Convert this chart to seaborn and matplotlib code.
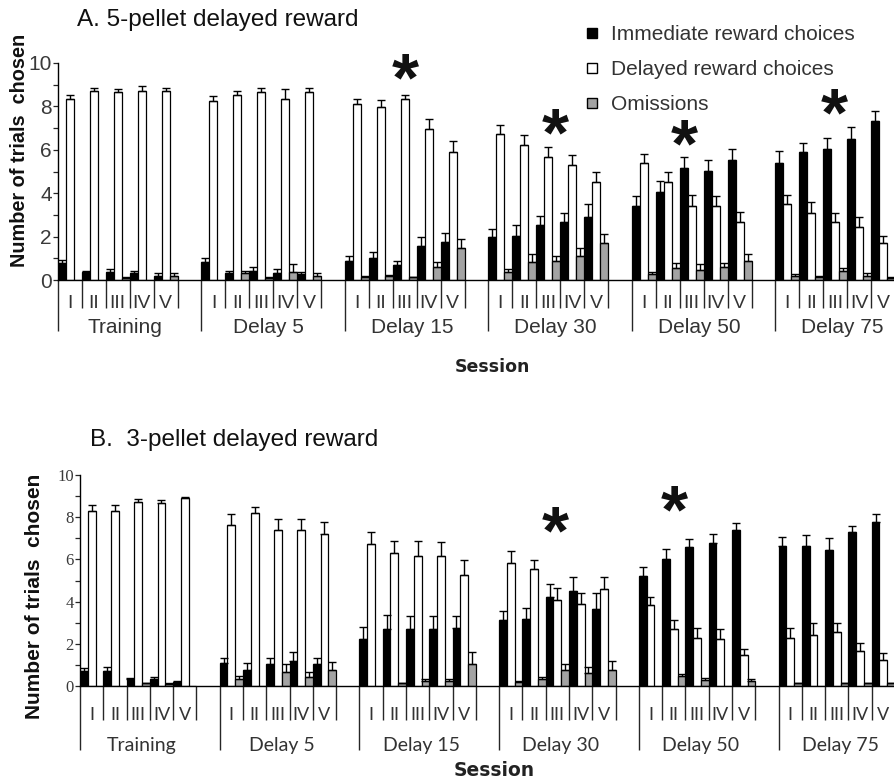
import numpy as np
import pandas as pd
import matplotlib
matplotlib.use("Agg")
import matplotlib.pyplot as plt
import seaborn as sns
from matplotlib.lines import Line2D

# ---------------- data ----------------
groups = ["Training", "Delay 5", "Delay 15", "Delay 30", "Delay 50", "Delay 75"]
sessions = ["I", "II", "III", "IV", "V"]
kinds = ["Immediate reward choices", "Delayed reward choices", "Omissions"]

# Panel A: 5-pellet delayed reward (rows = groups, cols = sessions I..V)
a_imm = [[0.78, 0.35, 0.38, 0.32, 0.20],
         [0.82, 0.34, 0.40, 0.32, 0.29],
         [0.89, 1.00, 0.71, 1.55, 1.74],
         [2.00, 2.05, 2.55, 2.66, 2.92],
         [3.43, 4.05, 5.15, 5.02, 5.54],
         [5.38, 5.89, 6.02, 6.51, 7.31]]
a_imm_err = [[0.16, 0.05, 0.12, 0.11, 0.10],
             [0.18, 0.09, 0.18, 0.18, 0.06],
             [0.23, 0.28, 0.15, 0.42, 0.41],
             [0.35, 0.49, 0.42, 0.42, 0.58],
             [0.42, 0.50, 0.54, 0.53, 0.51],
             [0.56, 0.42, 0.53, 0.54, 0.47]]
a_del = [[8.35, 8.71, 8.66, 8.71, 8.71],
         [8.23, 8.54, 8.66, 8.35, 8.66],
         [8.12, 7.97, 8.35, 6.94, 5.89],
         [6.74, 6.20, 5.69, 5.32, 4.51],
         [5.38, 4.51, 3.43, 3.43, 2.66],
         [3.51, 3.08, 2.66, 2.43, 1.69]]
a_del_err = [[0.19, 0.15, 0.12, 0.21, 0.12],
             [0.26, 0.17, 0.19, 0.43, 0.19],
             [0.23, 0.31, 0.19, 0.49, 0.51],
             [0.38, 0.46, 0.43, 0.42, 0.49],
             [0.44, 0.49, 0.51, 0.46, 0.49],
             [0.43, 0.50, 0.43, 0.49, 0.36]]
a_om = [[0.00, 0.00, 0.10, 0.00, 0.17],
        [0.00, 0.32, 0.10, 0.38, 0.20],
        [0.12, 0.17, 0.12, 0.62, 1.48],
        [0.38, 0.82, 0.89, 1.12, 1.69],
        [0.28, 0.54, 0.48, 0.62, 0.89],
        [0.20, 0.15, 0.43, 0.20, 0.10]]
a_om_err = [[0.00, 0.00, 0.02, 0.00, 0.13],
            [0.00, 0.10, 0.03, 0.36, 0.10],
            [0.08, 0.05, 0.03, 0.23, 0.41],
            [0.12, 0.38, 0.23, 0.36, 0.43],
            [0.07, 0.24, 0.26, 0.16, 0.31],
            [0.08, 0.03, 0.12, 0.12, 0.05]]

# Panel B: 3-pellet delayed reward
b_imm = [[0.71, 0.71, 0.32, 0.33, 0.19],
         [1.07, 0.76, 1.03, 1.20, 1.03],
         [2.23, 2.69, 2.69, 2.69, 2.73],
         [3.13, 3.18, 4.20, 4.52, 3.63],
         [5.21, 6.00, 6.57, 6.76, 7.39],
         [6.64, 6.64, 6.45, 7.31, 7.76]]
b_imm_err = [[0.16, 0.21, 0.05, 0.11, 0.04],
             [0.27, 0.31, 0.28, 0.43, 0.28],
             [0.58, 0.67, 0.63, 0.63, 0.59],
             [0.44, 0.53, 0.63, 0.63, 0.76],
             [0.45, 0.49, 0.38, 0.43, 0.32],
             [0.44, 0.52, 0.55, 0.27, 0.39]]
b_del = [[8.31, 8.31, 8.70, 8.66, 8.90],
         [7.63, 8.21, 7.39, 7.39, 7.19],
         [6.73, 6.29, 6.16, 6.16, 5.26],
         [5.85, 5.53, 4.08, 3.87, 4.58],
         [3.84, 2.69, 2.29, 2.23, 1.47],
         [2.29, 2.42, 2.54, 1.66, 1.23]]
b_del_err = [[0.27, 0.27, 0.15, 0.16, 0.04],
             [0.52, 0.26, 0.51, 0.51, 0.57],
             [0.58, 0.58, 0.71, 0.65, 0.71],
             [0.56, 0.44, 0.55, 0.52, 0.57],
             [0.39, 0.44, 0.44, 0.46, 0.28],
             [0.44, 0.55, 0.43, 0.36, 0.32]]
b_om = [[0.00, 0.00, 0.13, 0.11, 0.00],
        [0.32, 0.00, 0.65, 0.44, 0.76],
        [0.00, 0.13, 0.25, 0.25, 1.03],
        [0.19, 0.32, 0.76, 0.63, 0.76],
        [0.00, 0.49, 0.28, 0.00, 0.25],
        [0.13, 0.00, 0.13, 0.13, 0.13]]
b_om_err = [[0.00, 0.00, 0.02, 0.02, 0.00],
            [0.17, 0.00, 0.38, 0.24, 0.39],
            [0.00, 0.02, 0.06, 0.06, 0.60],
            [0.03, 0.12, 0.27, 0.25, 0.42],
            [0.00, 0.08, 0.08, 0.00, 0.08],
            [0.00, 0.00, 0.00, 0.00, 0.00]]

# significance markers: (group index, session position within group, y level)
a_stars = [(2, 2.02, 9.86), (3, 2.3, 7.32), (4, 1.68, 6.82), (5, 1.95, 8.25)]
b_stars = [(3, 1.9, 7.9), (4, 1.0, 8.9)]

# ---------------- style ----------------
sns.set_style("ticks")
plt.rcParams["font.family"] = ["Liberation Sans", "DejaVu Sans"]
colors = ["#000000", "#ffffff", "#a3a3a3"]
SLOT = 6  # 5 sessions + 1 empty gap per group

W, H = 895, 783
fig = plt.figure(figsize=(W / 100, H / 100), dpi=100)


def long_df(imm, dly, om):
    rows = []
    for g in range(len(groups)):
        for s in range(len(sessions)):
            pos = g * SLOT + s
            for k, arr in enumerate((imm, dly, om)):
                rows.append(dict(pos=pos, value=arr[g][s], kind=kinds[k]))
    return pd.DataFrame(rows)


def panel(ax, imm, imm_e, dly, dly_e, om, om_e, xmax, tick_font, tick_size,
          lab_font, lab_size, num_y, grp_y, grp_off, minor_len, major_len, stars):
    df = long_df(imm, dly, om)
    sns.barplot(data=df, x="pos", y="value", hue="kind", hue_order=kinds,
                palette=colors, saturation=1, native_scale=True, width=1.0,
                gap=0, edgecolor="black", linewidth=0.9, errorbar=None,
                legend=False, ax=ax, zorder=2)
    # one-sided SEM error bars
    for k, (vals, errs) in enumerate(((imm, imm_e), (dly, dly_e), (om, om_e))):
        xs, ys, es = [], [], []
        for g in range(len(groups)):
            for s in range(len(sessions)):
                if vals[g][s] > 0:
                    xs.append(g * SLOT + s + (k - 1) / 3.0)
                    ys.append(vals[g][s])
                    es.append(errs[g][s])
        ax.errorbar(xs, ys, yerr=[np.zeros(len(es)), es], fmt="none",
                    ecolor="black", elinewidth=1.0, capsize=3, capthick=1.0,
                    zorder=3)
    ax.set_xlim(-0.5, xmax)
    ax.set_ylim(0, 10)
    ax.set_xlabel("")
    ax.set_ylabel("")
    for sp in ("top", "right"):
        ax.spines[sp].set_visible(False)
    for sp in ("left", "bottom"):
        ax.spines[sp].set_linewidth(1.0)
        ax.spines[sp].set_color("black")
    # y ticks
    ax.set_yticks([0, 2, 4, 6, 8, 10])
    ax.set_yticks([1, 3, 5, 7, 9], minor=True)
    ax.tick_params(axis="y", which="both", direction="out", length=3.5,
                   width=0.9, pad=1, labelsize=tick_size, labelcolor="#3a3a3a")
    for t in ax.get_yticklabels():
        t.set_fontfamily(tick_font)
    # x separators as ticks
    major = [g * SLOT - 0.5 for g in range(len(groups))]
    minor = [g * SLOT + s + 0.5 for g in range(len(groups)) for s in range(len(sessions))]
    ax.set_xticks(major)
    ax.set_xticks(minor, minor=True)
    ax.set_xticklabels([])
    ax.tick_params(axis="x", which="major", direction="out", length=major_len, width=1.0)
    ax.tick_params(axis="x", which="minor", direction="out", length=minor_len, width=1.0)
    trans = ax.get_xaxis_transform()
    for g, name in enumerate(groups):
        for s, rn in enumerate(sessions):
            ax.text(g * SLOT + s, num_y, rn, transform=trans, ha="center", va="center",
                    fontsize=lab_size - 1, family=lab_font, color="#333333", clip_on=False)
        ax.text(g * SLOT + grp_off, grp_y, name, transform=trans, ha="center", va="center",
                fontsize=lab_size, family=lab_font, color="#333333", clip_on=False)
    fs = 50
    for g, s, y in stars:
        ax.annotate("*", xy=(g * SLOT + s, y), xytext=(0, -0.49 * fs),
                    textcoords="offset points", ha="center", va="baseline",
                    fontsize=fs, fontweight="bold", family="Liberation Sans",
                    color="#111111", annotation_clip=False)


axA = fig.add_axes([58 / W, 1 - 280 / H, 1 - 58 / W, 217 / H])
panel(axA, a_imm, a_imm_err, a_del, a_del_err, a_om, a_om_err, 34.23,
      "Liberation Sans", 15, "Liberation Sans", 15, -0.106, -0.217, 2.3, 20, 37, a_stars)

axB = fig.add_axes([80 / W, 1 - 686 / H, 1 - 80 / W, 211 / H])
panel(axB, b_imm, b_imm_err, b_del, b_del_err, b_om, b_om_err, 34.48,
      "Liberation Serif", 12, "Lato", 14, -0.137, -0.28, 2.15, 24.5, 46, b_stars)

# titles and axis labels
fig.text(77 / W, 1 - 20 / H, "A. 5-pellet delayed reward", ha="left", va="center",
         fontsize=17.5, color="#111111")
fig.text(90 / W, 1 - 440 / H, "B.  3-pellet delayed reward", ha="left", va="center",
         fontsize=17.5, color="#111111")
fig.text(20 / W, 1 - 150 / H, "Number of trials  chosen", rotation=90, ha="center",
         va="center", fontsize=14.3, fontweight="bold", color="#111111")
fig.text(35 / W, 1 - 596 / H, "Number of trials  chosen", rotation=90, ha="center",
         va="center", fontsize=15, fontweight="bold", color="#111111")
fig.text(492 / W, 1 - 367 / H, "Session", ha="center", va="center", fontsize=12.5,
         fontweight="bold", family="DejaVu Sans", color="#222222")
fig.text(494 / W, 1 - 770 / H, "Session", ha="center", va="center", fontsize=13.5,
         fontweight="bold", family="DejaVu Sans", color="#222222")

# legend
handles = [Line2D([], [], marker="s", linestyle="", markersize=7,
                  markerfacecolor=c, markeredgecolor="black", markeredgewidth=1)
           for c in colors]
leg = fig.legend(handles, kinds, loc="upper left", bbox_to_anchor=(585 / W, 1 - 25 / H),
                 frameon=False, fontsize=15, handlelength=0.7, handletextpad=0.55,
                 labelspacing=0.78, borderpad=0, borderaxespad=0)
for t in leg.get_texts():
    t.set_color("#333333")

fig.savefig("out.png", dpi=100)
